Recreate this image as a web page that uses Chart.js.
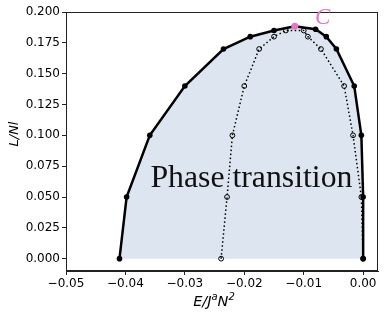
<!DOCTYPE html>
<html>
<head>
<meta charset="utf-8">
<script src="https://cdn.jsdelivr.net/npm/chart.js@4/dist/chart.umd.min.js"></script>
<style>
html,body{margin:0;padding:0;background:#fff;}
canvas{display:block;}
</style>
</head>
<body>
<canvas id="c" width="386" height="316"></canvas>
<script>
// Outer boundary (solid line with filled points)
const boundaryX = [-0.0410, -0.0398, -0.0359, -0.0300, -0.0235, -0.0190, -0.0150, -0.0115, -0.0080, -0.0062, -0.0045, -0.0015, -0.0003, 0.0000, 0.0000];
const boundaryY = [0.000, 0.050, 0.100, 0.140, 0.170, 0.180, 0.185, 0.1885, 0.186, 0.180, 0.170, 0.140, 0.100, 0.050, 0.000];
// Inner curve (dotted line with open circles)
const innerX = [-0.0239, -0.0229, -0.0220, -0.0200, -0.0175, -0.0150, -0.0130, -0.0100, -0.0093, -0.0071, -0.0032, -0.0017, -0.0003, 0.0000];
const innerY = [0.000, 0.050, 0.100, 0.140, 0.170, 0.180, 0.185, 0.185, 0.180, 0.170, 0.140, 0.100, 0.050, 0.000];
// Critical point C
const criticalX = [-0.0115];
const criticalY = [0.1885];
const criticalLabel = "C";
const regionLabel = "Phase transition";
// Ticks
const xTicks = [-0.05, -0.04, -0.03, -0.02, -0.01, 0.00];
const yTicks = [0.000, 0.025, 0.050, 0.075, 0.100, 0.125, 0.150, 0.175, 0.200];
const xTitle = ["E/J", "a", "N", "2"];
const yTitle = "L/Nl";

const pts = (xs, ys) => xs.map((x, i) => ({x: x, y: ys[i]}));
const fmtMinus = s => s.replace('-', '\u2212');

const deco = {
  id: 'deco',
  afterDraw(chart) {
    const ctx = chart.ctx, a = chart.chartArea;
    const sx = chart.scales.x, sy = chart.scales.y;
    ctx.save();
    // spines
    ctx.strokeStyle = '#222';
    ctx.lineWidth = 1;
    ctx.strokeRect(a.left + 0.5, a.top + 0.5, a.right - a.left - 1, a.bottom - a.top - 1);
    // region text, stretched to the reference width
    ctx.fillStyle = '#111';
    ctx.font = '31px "Liberation Serif", serif';
    ctx.textAlign = 'center';
    ctx.textBaseline = 'alphabetic';
    const tw = ctx.measureText(regionLabel).width;
    const sc = 202 / tw;
    ctx.save();
    ctx.translate(sx.getPixelForValue(-0.0188), sy.getPixelForValue(0.0585));
    ctx.scale(sc, 1);
    ctx.fillText(regionLabel, 0, 0);
    ctx.restore();
    // C label
    ctx.fillStyle = '#e377c2';
    ctx.font = 'italic 23px "Liberation Serif", serif';
    ctx.fillText(criticalLabel, sx.getPixelForValue(-0.0068), sy.getPixelForValue(0.1905));
    // y title
    ctx.fillStyle = '#000';
    ctx.font = 'italic 13px "DejaVu Sans"';
    ctx.translate(17.5, 134);
    ctx.rotate(-Math.PI / 2);
    ctx.textAlign = 'center';
    ctx.fillText(yTitle, 0, 0);
    ctx.setTransform(1, 0, 0, 1, 0, 0);
    // x title with superscripts
    const big = 'italic 14.5px "DejaVu Sans"', small = 'italic 10px "DejaVu Sans"';
    const parts = [[xTitle[0], big, 0], [xTitle[1], small, -6], [xTitle[2], big, 0], [xTitle[3], small, -6]];
    let w = 0;
    parts.forEach(p => { ctx.font = p[1]; w += ctx.measureText(p[0]).width; });
    let x = 214 - w / 2;
    ctx.textAlign = 'left';
    parts.forEach(p => { ctx.font = p[1]; ctx.fillText(p[0], x, 305.5 + p[2]); x += ctx.measureText(p[0]).width; });
    ctx.restore();
  }
};

new Chart(document.getElementById('c'), {
  type: 'scatter',
  data: {
    datasets: [
      {
        data: pts(criticalX, criticalY),
        pointRadius: 3.5,
        pointBackgroundColor: '#e377c2',
        pointBorderColor: '#e377c2',
        pointBorderWidth: 0,
        showLine: false
      },
      {
        data: pts(boundaryX, boundaryY),
        showLine: true,
        borderColor: '#000',
        borderWidth: 2.5,
        pointRadius: 2.8,
        pointBackgroundColor: '#000',
        pointBorderColor: '#000',
        pointBorderWidth: 0,
        fill: 'origin',
        backgroundColor: '#dde6f0',
        tension: 0
      },
      {
        data: pts(innerX, innerY),
        showLine: true,
        borderColor: '#000',
        borderWidth: 1.5,
        borderDash: [1.5, 2.5],
        pointRadius: 2.4,
        pointBackgroundColor: 'rgba(0,0,0,0)',
        pointBorderColor: '#000',
        pointBorderWidth: 1,
        fill: false,
        tension: 0
      }
    ]
  },
  options: {
    responsive: false,
    animation: false,
    layout: {padding: {left: 0, top: 12, right: 8, bottom: 0}},
    plugins: {
      legend: {display: false},
      tooltip: {enabled: false},
      filler: {drawTime: 'beforeDatasetsDraw'}
    },
    scales: {
      x: {
        type: 'linear',
        min: -0.05,
        max: 0.0025,
        afterBuildTicks: s => { s.ticks = xTicks.map(v => ({value: v})); },
        afterFit: s => { s.height = 45; },
        grid: {display: true, drawOnChartArea: false, drawTicks: true, tickLength: 4, color: '#222'},
        border: {display: true, color: '#222', width: 1},
        ticks: {
          color: '#000',
          font: {family: 'DejaVu Sans', size: 12},
          padding: 2,
          maxRotation: 0,
          callback: v => fmtMinus(Number(v).toFixed(2))
        }
      },
      y: {
        type: 'linear',
        min: -0.01,
        max: 0.2,
        afterBuildTicks: s => { s.ticks = yTicks.map(v => ({value: v})); },
        afterFit: s => { s.width = 66; },
        grid: {display: true, drawOnChartArea: false, drawTicks: true, tickLength: 4, color: '#222'},
        border: {display: true, color: '#222', width: 1},
        ticks: {
          color: '#000',
          font: {family: 'DejaVu Sans', size: 12},
          padding: 2,
          callback: v => Number(v).toFixed(3)
        }
      }
    }
  },
  plugins: [deco]
});
</script>
</body>
</html>
